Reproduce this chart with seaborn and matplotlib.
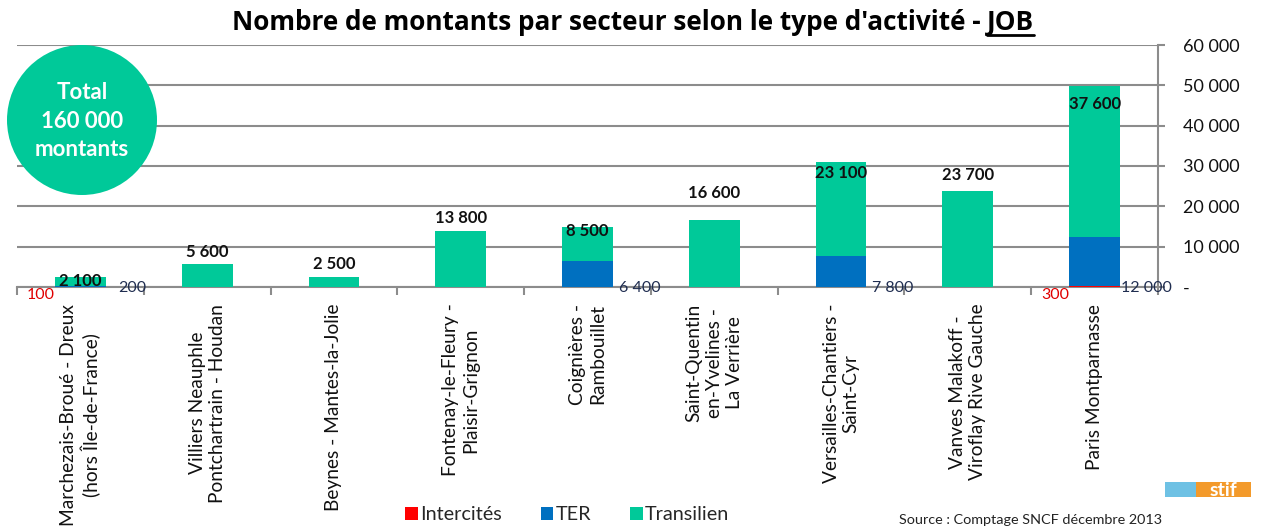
import numpy as np
import pandas as pd
import matplotlib
matplotlib.use("Agg")
import matplotlib.pyplot as plt
import seaborn as sns
from matplotlib.patches import Ellipse, Rectangle, Patch
from matplotlib.lines import Line2D

# ---------------- data ----------------
sectors = [
    "Marchezais-Broué - Dreux\n(hors Île-de-France)",
    "Villiers Neauphle\nPontchartrain - Houdan",
    "Beynes - Mantes-la-Jolie",
    "Fontenay-le-Fleury -\nPlaisir-Grignon",
    "Coignières -\nRambouillet",
    "Saint-Quentin\nen-Yvelines -\nLa Verrière",
    "Versailles-Chantiers -\nSaint-Cyr",
    "Vanves Malakoff -\nViroflay Rive Gauche",
    "Paris Montparnasse",
]
intercites = [100, 0, 0, 0, 0, 0, 0, 0, 300]
ter = [200, 0, 0, 0, 6400, 0, 7800, 0, 12000]
transilien = [2100, 5600, 2500, 13800, 8500, 16600, 23100, 23700, 37600]
y_ticks = [0, 10000, 20000, 30000, 40000, 50000, 60000]
series_names = ["Intercités", "TER", "Transilien"]
title_main = "Nombre de montants par secteur selon le type d'activité - "
title_job = "JOB"
total_text = "Total\n160 000\nmontants"
source_text = "Source : Comptage SNCF décembre 2013"

# label vertical offsets (pixels) for Transilien labels relative to stack top
label_offsets = [-4, 12, 13, 13, -4, 27, -11, 16, -18]

RED = "#FF0000"
BLUE = "#0070C0"
GREEN = "#00C999"
GRID = "#8C8C8C"
NAVY = "#1F2D50"

sns.set_theme(style="white")
plt.rcParams["font.family"] = ["Lato", "DejaVu Sans"]

W, H = 1261, 528
fig = plt.figure(figsize=(W / 100, H / 100), dpi=100)
ax = fig.add_axes([17 / W, 1 - 287 / H, (1158 - 17) / W, (287 - 45) / H])

df = pd.DataFrame({
    "sector": sectors,
    "Intercités": intercites,
    "TER": ter,
    "Transilien": transilien,
})
df["cum_ter"] = df["Intercités"] + df["TER"]
df["cum_all"] = df["cum_ter"] + df["Transilien"]

common = dict(data=df, x="sector", width=0.4, saturation=1, ax=ax,
              linewidth=0, zorder=3, order=sectors)
sns.barplot(y="cum_all", color=GREEN, **common)
sns.barplot(y="cum_ter", color=BLUE, **common)
sns.barplot(y="Intercités", color=RED, **common)

ax.set_xlim(-0.5, len(sectors) - 0.5)
ax.set_ylim(0, 60000)
ax.set_xlabel("")
ax.set_ylabel("")

# grid & spines
ax.set_axisbelow(True)
ax.yaxis.grid(True, color=GRID, linewidth=1.5)
ax.xaxis.grid(False)
for s in ["left", "top"]:
    ax.spines[s].set_visible(False)
for s in ["right", "bottom"]:
    ax.spines[s].set_color(GRID)
    ax.spines[s].set_linewidth(1.5)

# right y axis
ax.yaxis.tick_right()
ax.set_yticks(y_ticks)
ax.set_yticklabels([("-" if v == 0 else f"{v:,}".replace(",", " ")) for v in y_ticks])
ax.tick_params(axis="y", which="major", direction="out", length=5, width=1.5,
               color=GRID, pad=13, labelsize=13, labelcolor="#111111")

# x axis: labels at centers, tick marks at boundaries
ax.set_xticks(range(len(sectors)))
ax.set_xticklabels(sectors, rotation=90, ha="center", va="top",
                   multialignment="center", fontsize=13.75, color="#111111",
                   linespacing=1.22)
ax.tick_params(axis="x", which="major", length=0, pad=12)
ax.set_xticks(np.arange(-0.5, len(sectors), 1.0), minor=True)
ax.tick_params(axis="x", which="minor", direction="out", length=6, width=1.5,
               color=GRID, bottom=True)

# Transilien value labels
for i, (tot, v) in enumerate(zip(df["cum_all"], transilien)):
    ax.annotate(f"{v:,}".replace(",", " "), xy=(i, tot),
                xytext=(0, label_offsets[i]), textcoords="offset pixels",
                ha="center", va="center", fontsize=12, fontweight="bold",
                color="#111111", zorder=5)

# TER value labels (right of bar, on baseline)
for i, v in enumerate(ter):
    if v > 0:
        ax.annotate(f"{v:,}".replace(",", " "), xy=(i + 0.41, 0),
                    xytext=(0, -1), textcoords="offset pixels",
                    ha="center", va="center", fontsize=11.5, color=NAVY,
                    annotation_clip=False, zorder=5)

# Intercités value labels (left of bar, below baseline)
for i, v in enumerate(intercites):
    if v > 0:
        ax.annotate(f"{v:,}".replace(",", " "), xy=(i - 0.2, 0),
                    xytext=(0, -8), textcoords="offset pixels",
                    ha="right", va="center", fontsize=11.5, color="#E00000",
                    annotation_clip=False, zorder=5)

# Total circle
circ = Ellipse((82 / W, 1 - 120 / H), 150 / W, 150 / H, transform=fig.transFigure,
               facecolor=GREEN, edgecolor="none", zorder=10)
fig.patches.append(circ)
fig.text(82 / W, 1 - 121 / H, total_text, ha="center", va="center",
         fontsize=16, fontweight="bold", color="white", linespacing=1.45,
         zorder=11)

# Legend
handles = [Patch(facecolor=c, edgecolor="none", label=n)
           for c, n in zip([RED, BLUE, GREEN], series_names)]
fig.legend(handles=handles, loc="center left",
           bbox_to_anchor=(405 / W, 1 - 515 / H), ncol=3, frameon=False,
           fontsize=14.3, handlelength=0.64, handleheight=0.64,
           handletextpad=0.12, columnspacing=1.95, borderaxespad=0, borderpad=0)

# Source text
fig.text(899 / W, 1 - 520 / H, source_text, ha="left", va="center",
         fontsize=10.4, color="#222222")

# stif logo (drawn shapes + text)
fig.patches.append(Rectangle((1165 / W, 1 - 497 / H), 31 / W, 15 / H,
                             transform=fig.transFigure, facecolor="#6EC1E4",
                             edgecolor="none"))
fig.patches.append(Rectangle((1196 / W, 1 - 497 / H), 55 / W, 15 / H,
                             transform=fig.transFigure, facecolor="#F39A2B",
                             edgecolor="none"))
fig.text(1223 / W, 1 - 490 / H, "stif", ha="center", va="center",
         fontsize=14, fontweight="bold", color="white")

# Title with underlined JOB (auto-fit to the reference width)
title_font = ["Open Sans", "DejaVu Sans"]
fs = 17
t1 = fig.text(0, 1 - 22 / H, title_main, ha="left", va="center",
              fontsize=fs, fontweight="bold", color="black", family=title_font)
t2 = fig.text(0, 1 - 22 / H, title_job, ha="left", va="center",
              fontsize=fs, fontweight="bold", color="black", family=title_font)
fig.canvas.draw()
r = fig.canvas.get_renderer()
tot_w = t1.get_window_extent(r).width + t2.get_window_extent(r).width
fs = fs * 802 / tot_w
t1.set_fontsize(fs)
t2.set_fontsize(fs)
fig.canvas.draw()
w1 = t1.get_window_extent(r).width
w2 = t2.get_window_extent(r).width
start = 633 - (w1 + w2) / 2
t1.set_x(start / W)
t2.set_x((start + w1) / W)
fig.canvas.draw()
bb = t2.get_window_extent(r)
fig.add_artist(Line2D([bb.x0 / W, bb.x1 / W], [(bb.y0 + 1) / H, (bb.y0 + 1) / H],
                      transform=fig.transFigure, color="black", linewidth=2))

fig.savefig("out.png", dpi=100)
